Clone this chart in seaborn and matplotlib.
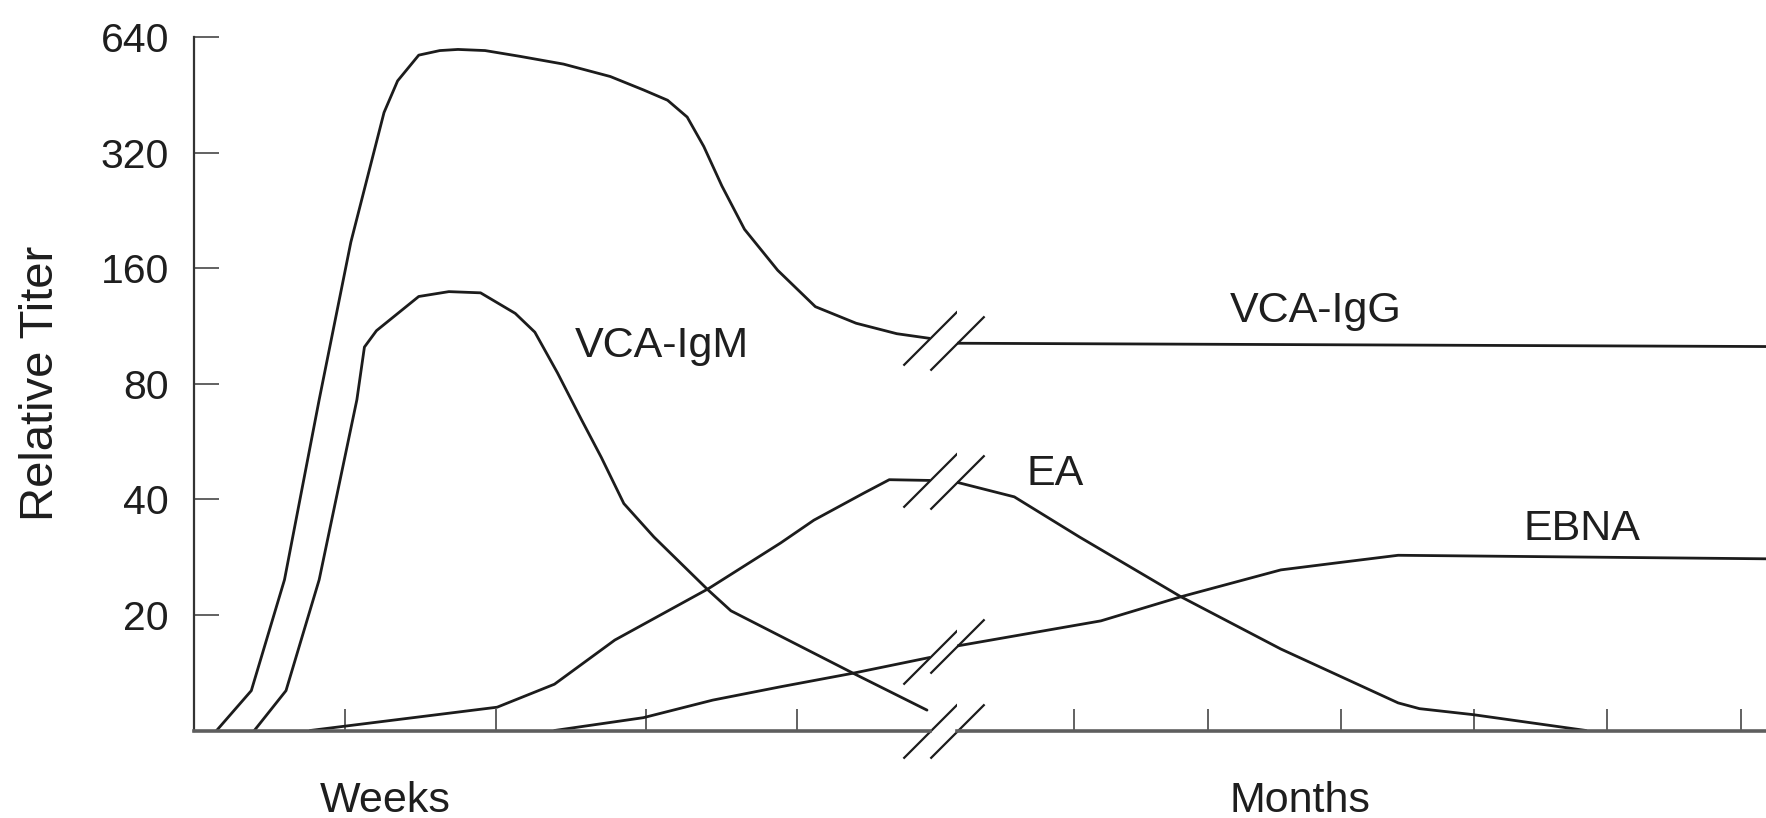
import matplotlib
matplotlib.use("Agg")
import matplotlib.pyplot as plt
from matplotlib.ticker import NullLocator
from matplotlib.transforms import blended_transform_factory
import seaborn as sns

# ---------------- data ----------------
# weeks section (left of the break)
igg_weeks = [0.15, 0.38, 0.60, 0.83, 1.04, 1.26, 1.35, 1.49, 1.63, 1.75, 1.93, 2.16,
             2.45, 2.76, 2.98, 3.14, 3.27, 3.38, 3.50, 3.65, 3.87, 4.12, 4.39, 4.66, 4.88]
igg_titer = [10, 12.7, 24.7, 72.7, 187, 407, 492, 574, 590, 594, 590, 570,
             544, 505, 466, 438, 396, 332, 262, 202, 158, 127, 115, 108, 105]

igm_weeks = [0.40, 0.61, 0.83, 1.08, 1.13, 1.21, 1.49, 1.69, 1.90, 2.13, 2.26, 2.41,
             2.57, 2.70, 2.85, 3.05, 3.41, 3.56, 3.89, 4.37, 4.86]
igm_titer = [10, 12.7, 24.7, 72.7, 99.7, 110, 135, 139, 138, 122, 109, 85.4,
             64.4, 51.5, 39.0, 31.9, 23.2, 20.5, 17.6, 14.1, 11.3]

ea_weeks = [0.77, 2.01, 2.39, 2.79, 3.41, 3.89, 4.11, 4.44, 4.61, 4.88]
ea_titer = [10, 11.5, 13.2, 17.2, 23.4, 30.8, 35.3, 41.5, 45.0, 44.8]

ebna_weeks = [2.39, 2.98, 3.44, 3.89, 4.37, 4.81, 4.88]
ebna_titer = [10, 10.8, 12.0, 13.0, 14.1, 15.3, 15.5]

# months section (right of the break)
igg_months = [0.12, 6.19]
igg_titer_m = [102, 100]

ea_months = [0.12, 0.55, 1.04, 1.80, 2.55, 3.43, 3.59, 3.99, 4.84]
ea_titer_m = [44.3, 40.6, 31.9, 22.3, 16.3, 11.8, 11.4, 11.0, 10]

ebna_months = [0.12, 1.20, 1.80, 2.55, 2.96, 3.43, 6.19]
ebna_titer_m = [16.6, 19.3, 22.3, 26.2, 27.3, 28.6, 28.0]

y_ticks = [20, 40, 80, 160, 320, 640]
y_tick_labels = ["20", "40", "80", "160", "320", "640"]
week_ticks = [1, 2, 3, 4]
month_ticks = [1, 2, 3, 4, 5, 6]

# ---------------- style ----------------
sns.set_theme(style="white")
plt.rcParams["font.family"] = ["Liberation Sans", "DejaVu Sans"]

LINE = "#1c1c1c"
TEXT = "#1e1e1e"
FS = 31

W, H = 1766, 818
fig = plt.figure(figsize=(W / 100, H / 100), dpi=100)
fig.patch.set_facecolor("white")

bottom = (H - 730.5) / H
height = (730.5 - 37) / H
ax_w = fig.add_axes([194 / W, bottom, (930 - 194) / W, height])
ax_m = fig.add_axes([957 / W, bottom, (W - 957) / W, height], sharey=ax_w)

line_kw = dict(color=LINE, linewidth=2.0, estimator=None, sort=False, legend=False)
sns.lineplot(x=igg_weeks, y=igg_titer, ax=ax_w, **line_kw)
sns.lineplot(x=igm_weeks, y=igm_titer, ax=ax_w, **line_kw)
sns.lineplot(x=ea_weeks, y=ea_titer, ax=ax_w, **line_kw)
sns.lineplot(x=ebna_weeks, y=ebna_titer, ax=ax_w, **line_kw)

sns.lineplot(x=igg_months, y=igg_titer_m, ax=ax_m, **line_kw)
sns.lineplot(x=ea_months, y=ea_titer_m, ax=ax_m, **line_kw)
sns.lineplot(x=ebna_months, y=ebna_titer_m, ax=ax_m, **line_kw)

ax_w.set_yscale("log", base=2)
ax_w.set_ylim(10, 640)
ax_w.set_xlim(0, 4.88)
ax_m.set_xlim(0.12, 6.19)

ax_w.set_yticks(y_ticks)
ax_w.set_yticklabels(y_tick_labels)
ax_w.yaxis.set_minor_locator(NullLocator())
ax_w.set_xticks(week_ticks)
ax_m.set_xticks(month_ticks)
for a in (ax_w, ax_m):
    a.set_xlabel("")
    a.set_ylabel("")
    a.xaxis.set_minor_locator(NullLocator())
    a.tick_params(axis="x", direction="in", length=16, width=1.3, color="#555555",
                  labelbottom=False, bottom=True)
    a.spines["top"].set_visible(False)
    a.spines["right"].set_visible(False)
    a.spines["bottom"].set_color("#5e5e5e")
    a.spines["bottom"].set_linewidth(2.6)
    a.set_facecolor("white")

ax_w.tick_params(axis="y", direction="in", length=18, width=1.3, color="#555555",
                 pad=18, labelsize=29.5, labelcolor=TEXT, left=True)
ax_w.spines["left"].set_color("#333333")
ax_w.spines["left"].set_linewidth(1.6)
ax_m.spines["left"].set_visible(False)
ax_m.tick_params(axis="y", left=False, labelleft=False)

ax_w.set_ylabel("Relative Titer", fontsize=34, color=TEXT)
ax_w.yaxis.set_label_coords(-0.178, 0.5)

# break marks "//" at the gap
slash = [(-1, -1), (1, 1)]
mk = dict(marker=slash, markersize=39, markeredgewidth=1.6, color=LINE,
          linestyle="none", clip_on=False)
x_end = ax_w.get_xlim()[1]
x_start = ax_m.get_xlim()[0]
y_base = ax_w.get_ylim()[0]
ax_w.plot([x_end] * 4, [igg_titer[-1], ea_titer[-1], ebna_titer[-1], y_base], **mk)
ax_m.plot([x_start] * 4, [igg_titer_m[0], ea_titer_m[0], ebna_titer_m[0], y_base], **mk)

# curve labels
ax_w.text(3.10, 93.9, "VCA-IgM", ha="center", va="baseline", fontsize=FS, color=TEXT)
ax_m.text(2.81, 115.8, "VCA-IgG", ha="center", va="baseline", fontsize=FS, color=TEXT)
ax_m.text(0.857, 43.6, "EA", ha="center", va="baseline", fontsize=FS, color=TEXT)
ax_m.text(4.81, 31.3, "EBNA", ha="center", va="baseline", fontsize=FS, color=TEXT)

# section labels under the axis
tw = blended_transform_factory(ax_w.transData, ax_w.transAxes)
tm = blended_transform_factory(ax_m.transData, ax_m.transAxes)
ax_w.text(1.27, -0.1175, "Weeks", transform=tw, ha="center", va="baseline",
          fontsize=FS, color=TEXT)
ax_m.text(2.69, -0.1175, "Months", transform=tm, ha="center", va="baseline",
          fontsize=FS, color=TEXT)

fig.savefig("out.png", dpi=100, facecolor="white")
